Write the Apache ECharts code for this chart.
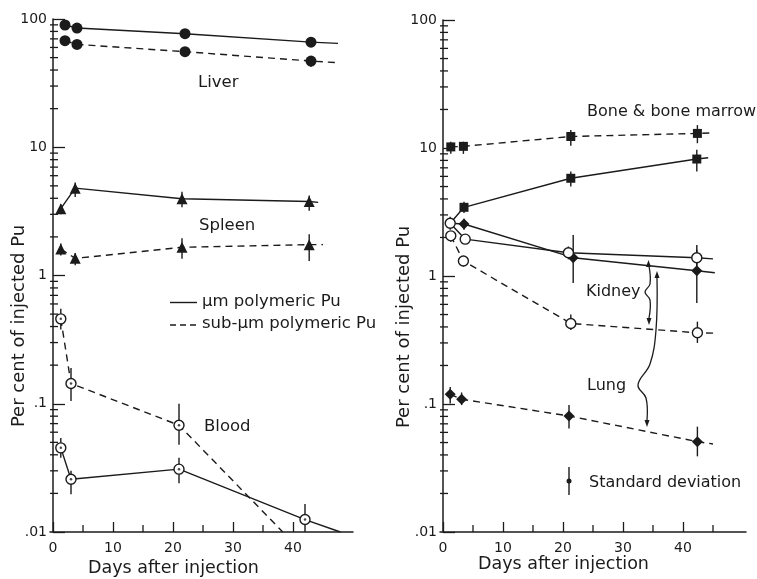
<!DOCTYPE html>
<html>
<head>
<meta charset="utf-8">
<script src="https://cdn.jsdelivr.net/npm/echarts@6/dist/echarts.min.js"></script>
<style>
  html, body { margin: 0; padding: 0; background: #fff; }
  #chart { width: 757px; height: 579px; }
</style>
</head>
<body>
<div id="chart"></div>
<script>
// ---- data ----
// left panel: liver, spleen, blood
const liverDays = [2, 4, 22, 43]
const liverUm = [89.8, 85, 76.8, 66]
const liverSub = [67.7, 63.4, 55.6, 47]
const liverSubErr = [null, null, null, [42.2, 50.5]]
const liverUmTail = [47.5, 64.5]
const liverSubTail = [47.5, 45.6]

const spleenDays = [1.3, 3.7, 21.5, 42.7]
const spleenUm = [3.32, 4.8, 3.97, 3.78]
const spleenSub = [1.61, 1.36, 1.66, 1.74]
const spleenUmErr = [[3.0, 3.6], [4.1, 5.3], [3.4, 4.5], [3.2, 4.2]]
const spleenSubErr = [[1.43, 1.78], [1.2, 1.5], [1.35, 1.95], [1.3, 2.1]]
const spleenUmTail = [44.2, 3.72]
const spleenSubTail = [45, 1.74]

const bloodDays = [1.3, 3, 21, 42]
const bloodUm = [0.0453, 0.0258, 0.0309, 0.0125]
const bloodSub = [0.459, 0.144, 0.068]
const bloodUmErr = [[0.038, 0.054], [0.0197, 0.03], [0.024, 0.038], [0.01, 0.0165]]
const bloodSubErr = [[0.38, 0.55], [0.105, 0.19], [0.048, 0.1]]
const bloodUmTail = [47.9, 0.01]
const bloodSubTail = [38.3, 0.01]

// right panel: bone, kidney, lung
const boneSubDays = [1.3, 3.4, 21.3, 42.4]
const boneSub = [10.2, 10.3, 12.3, 13.0]
const boneSubErr = [[9, 11.2], [9, 11.2], [10.4, 13.8], [10.9, 15.1]]
const boneSubTail = [44.5, 13.1]

const boneUmDays = [1.2, 3.5, 21.3, 42.3]
const boneUm = [2.58, 3.44, 5.8, 8.2]
const boneUmErr = [null, [3.1, 3.8], [5.0, 6.55], [6.55, 9.7]]
const boneUmTail = [44.2, 8.4]

const kidneyUmDays = [1.2, 3.7, 20.9, 42.3]
const kidneyUm = [2.58, 1.94, 1.52, 1.39]
const kidneyUmErr = [[2.3, 2.9], [1.8, 2.1], [1.35, 1.7], [1.2, 1.6]]
const kidneyUmTail = [45, 1.36]

const lungUmDays = [1.2, 3.5, 21.7, 42.3]
const lungUm = [2.58, 2.55, 1.39, 1.1]
const lungUmErr = [null, [2.3, 2.8], [0.88, 2.09], [0.615, 1.75]]
const lungUmTail = [45.3, 1.06]

const kidneySubDays = [1.3, 3.4, 21.3, 42.4]
const kidneySub = [2.06, 1.31, 0.426, 0.36]
const kidneySubErr = [[1.85, 2.2], [1.19, 1.4], [0.378, 0.5], [0.30, 0.44]]
const kidneySubTail = [45.8, 0.357]

const lungSubDays = [1.2, 3.1, 21, 42.4]
const lungSub = [0.119, 0.109, 0.0806, 0.0508]
const lungSubErr = [[0.101, 0.136], [0.098, 0.123], [0.0645, 0.098], [0.039, 0.0665]]
const lungSubTail = [45, 0.0487]

// axis ticks
const xMajorTicks = [0, 10, 20, 30, 40]
const xMinorLeft = [5, 15, 25, 35]
const xMinorRight = [5, 15, 25, 35, 45]
const yMinorTicks = [0.02, 0.03, 0.04, 0.05, 0.06, 0.07, 0.08, 0.09,
  0.2, 0.3, 0.4, 0.5, 0.6, 0.7, 0.8, 0.9,
  2, 3, 4, 5, 6, 7, 8, 9,
  20, 30, 40, 50, 60, 70, 80, 90]
const yLabels = { '0.01': '.01', '0.1': '.1', '1': '1', '10': '10', '100': '100' }

// ---- helpers ----
const INK = '#1b1b1b'
const FONT = 'DejaVu Sans'
const X_MIN = -0.5

const chart = echarts.init(document.getElementById('chart'))

const pts = (days, vals) => days.map((d, i) => [d, vals[i]])

// line with markers, extra tail point without marker
const curve = (idx, days, vals, tail, opt) => {
    const data = pts(days, vals).map((p, i) =>
        (opt.hide || []).includes(i) ? { value: p, symbol: 'none' } : p)
    data.push({ value: tail, symbol: 'none' })
    return {
        type: 'line',
        xAxisIndex: idx,
        yAxisIndex: idx,
        data: data,
        symbol: opt.symbol,
        symbolSize: opt.size,
        showAllSymbol: true,
        z: 3,
        itemStyle: {
            color: opt.open ? '#fff' : INK,
            borderColor: INK,
            borderWidth: opt.open ? 1.4 : 0,
        },
        lineStyle: {
            color: INK,
            width: 1.4,
            type: opt.dashed ? [7, 5] : 'solid',
        },
        animation: false,
    }
}

const errBars = (idx, days, errs) => ({
    type: 'custom',
    xAxisIndex: idx,
    yAxisIndex: idx,
    z: 1,
    data: days.map((d, i) => errs[i] ? [d, errs[i][0], errs[i][1]] : null).filter((r) => r),
    encode: { x: 0, y: [1, 2] },
    renderItem: (params, api) => {
        const a = api.coord([api.value(0), api.value(1)])
        const b = api.coord([api.value(0), api.value(2)])
        return {
            type: 'line',
            shape: { x1: a[0], y1: a[1], x2: b[0], y2: b[1] },
            style: { stroke: INK, lineWidth: 1.4 },
        }
    },
    animation: false,
})

// blood markers have a dot in the centre
const centreDots = (idx, days, vals) => ({
    type: 'scatter',
    xAxisIndex: idx,
    yAxisIndex: idx,
    z: 4,
    data: pts(days, vals),
    symbol: 'circle',
    symbolSize: 2.5,
    itemStyle: { color: INK },
    animation: false,
})

const yMinor = (idx) => ({
    type: 'custom',
    xAxisIndex: idx,
    yAxisIndex: idx,
    z: 2,
    data: yMinorTicks.map((v) => [X_MIN, v]),
    renderItem: (params, api) => {
        const p = api.coord([api.value(0), api.value(1)])
        return {
            type: 'line',
            shape: { x1: p[0], y1: p[1], x2: p[0] + 8, y2: p[1] },
            style: { stroke: INK, lineWidth: 1.3 },
        }
    },
    animation: false,
})

const xMinor = (idx, ticks) => ({
    type: 'custom',
    xAxisIndex: idx,
    yAxisIndex: idx,
    z: 2,
    data: ticks.map((v) => [v, 0.01]),
    renderItem: (params, api) => {
        const p = api.coord([api.value(0), api.value(1)])
        return {
            type: 'line',
            shape: { x1: p[0], y1: p[1], x2: p[0], y2: p[1] - 7 },
            style: { stroke: INK, lineWidth: 1.3 },
        }
    },
    animation: false,
})

const xAxisOf = (idx, max) => ({
    type: 'value',
    gridIndex: idx,
    min: X_MIN,
    max: max,
    splitLine: { show: false },
    axisLine: { lineStyle: { color: INK, width: 1.5 } },
    axisTick: { inside: true, length: 10, customValues: xMajorTicks, lineStyle: { color: INK, width: 1.3 } },
    axisLabel: { customValues: xMajorTicks, margin: 9, color: INK, fontFamily: FONT, fontSize: 14 },
})

const yAxisOf = (idx) => ({
    type: 'log',
    logBase: 10,
    gridIndex: idx,
    min: 0.01,
    max: 100,
    splitLine: { show: false },
    axisLine: { show: true, lineStyle: { color: INK, width: 1.5 } },
    axisTick: { inside: true, length: 12, lineStyle: { color: INK, width: 1.3 } },
    axisLabel: {
        margin: 3,
        color: INK,
        fontFamily: FONT,
        fontSize: 14,
        formatter: (v) => yLabels[String(+v.toPrecision(3))] || '',
    },
})

// text placed by its left edge and vertical centre
const txt = (text, x, y, size, rot) => ({
    type: 'text',
    x: x,
    y: y,
    rotation: rot || 0,
    style: {
        text: text,
        fill: INK,
        font: size + 'px "' + FONT + '"',
        align: rot ? 'center' : 'left',
        verticalAlign: 'middle',
    },
})

const arrowHead = (x, y, dir) => ({
    type: 'polygon',
    shape: { points: dir < 0
        ? [[x, y], [x - 2.5, y + 7], [x + 2.5, y + 7]]
        : [[x, y], [x - 2.5, y - 7], [x + 2.5, y - 7]] },
    style: { fill: INK },
})

const brace = (points) => ({
    type: 'polyline',
    shape: { points: points, smooth: 0.4 },
    style: { stroke: INK, lineWidth: 1.3, fill: null },
})

const option = {
    backgroundColor: '#fff',
    animation: false,
    grid: [
        { left: 50, top: 19, width: 303, height: 513 },
        { left: 440, top: 20, width: 306, height: 512 },
    ],
    xAxis: [xAxisOf(0, 50), xAxisOf(1, 50.5)],
    yAxis: [yAxisOf(0), yAxisOf(1)],
    series: [
        yMinor(0), yMinor(1), xMinor(0, xMinorLeft), xMinor(1, xMinorRight),
        // left panel
        errBars(0, liverDays, liverSubErr),
        errBars(0, spleenDays, spleenUmErr),
        errBars(0, spleenDays, spleenSubErr),
        errBars(0, bloodDays, bloodUmErr),
        errBars(0, bloodDays.slice(0, 3), bloodSubErr),
        curve(0, liverDays, liverUm, liverUmTail, { symbol: 'circle', size: 11 }),
        curve(0, liverDays, liverSub, liverSubTail, { symbol: 'circle', size: 11, dashed: true }),
        curve(0, spleenDays, spleenUm, spleenUmTail, { symbol: 'triangle', size: 11 }),
        curve(0, spleenDays, spleenSub, spleenSubTail, { symbol: 'triangle', size: 11, dashed: true }),
        curve(0, bloodDays, bloodUm, bloodUmTail, { symbol: 'circle', size: 10, open: true }),
        curve(0, bloodDays.slice(0, 3), bloodSub, bloodSubTail, { symbol: 'circle', size: 10, open: true, dashed: true }),
        centreDots(0, bloodDays, bloodUm),
        centreDots(0, bloodDays.slice(0, 3), bloodSub),
        // right panel
        errBars(1, boneSubDays, boneSubErr),
        errBars(1, boneUmDays, boneUmErr),
        errBars(1, kidneyUmDays, kidneyUmErr),
        errBars(1, lungUmDays, lungUmErr),
        errBars(1, kidneySubDays, kidneySubErr),
        errBars(1, lungSubDays, lungSubErr),
        curve(1, boneSubDays, boneSub, boneSubTail, { symbol: 'rect', size: 9, dashed: true }),
        curve(1, boneUmDays, boneUm, boneUmTail, { symbol: 'rect', size: 9, hide: [0] }),
        curve(1, lungUmDays, lungUm, lungUmTail, { symbol: 'diamond', size: 11, hide: [0] }),
        curve(1, kidneyUmDays, kidneyUm, kidneyUmTail, { symbol: 'circle', size: 10, open: true }),
        curve(1, kidneySubDays, kidneySub, kidneySubTail, { symbol: 'circle', size: 10, open: true, dashed: true }),
        curve(1, lungSubDays, lungSub, lungSubTail, { symbol: 'diamond', size: 11, dashed: true }),
    ],
    graphic: [
        // axis titles
        txt('Per cent of injected Pu', 19, 326, 18, Math.PI / 2),
        txt('Per cent of injected Pu', 404, 327, 18, Math.PI / 2),
        txt('Days after injection', 88, 568, 17.5),
        txt('Days after injection', 478, 564, 17.5),
        // organ labels
        txt('Liver', 198, 83, 16.5),
        txt('Spleen', 199, 226, 16.5),
        txt('Blood', 204, 427, 16.5),
        txt('Bone & bone marrow', 587, 112, 16),
        txt('Kidney', 586, 292, 16),
        txt('Lung', 587, 386, 16),
        // line-style key
        { type: 'line', shape: { x1: 170, y1: 302.5, x2: 197, y2: 302.5 }, style: { stroke: INK, lineWidth: 1.4 } },
        { type: 'line', shape: { x1: 170, y1: 325, x2: 199, y2: 325 }, style: { stroke: INK, lineWidth: 1.4, lineDash: [6, 4] } },
        txt('µm polymeric Pu', 202, 301.5, 16.5),
        txt('sub-µm polymeric Pu', 202, 324, 16.5),
        // standard deviation key
        { type: 'line', shape: { x1: 569, y1: 467, x2: 569, y2: 495 }, style: { stroke: INK, lineWidth: 1.4 } },
        { type: 'circle', shape: { cx: 569, cy: 481, r: 2.5 }, style: { fill: INK } },
        txt('Standard deviation', 589, 482.5, 16),
        // kidney brace
        brace([[649, 266], [650, 284], [645, 292], [650, 300], [649, 318]]),
        arrowHead(648.5, 260, -1),
        arrowHead(649, 325, 1),
        // lung brace
        brace([[657, 278], [656, 330], [650, 364], [638, 385], [646, 398], [647, 420]]),
        arrowHead(657, 271, -1),
        arrowHead(647, 427, 1),
    ],
}

chart.setOption(option)
</script>
</body>
</html>
